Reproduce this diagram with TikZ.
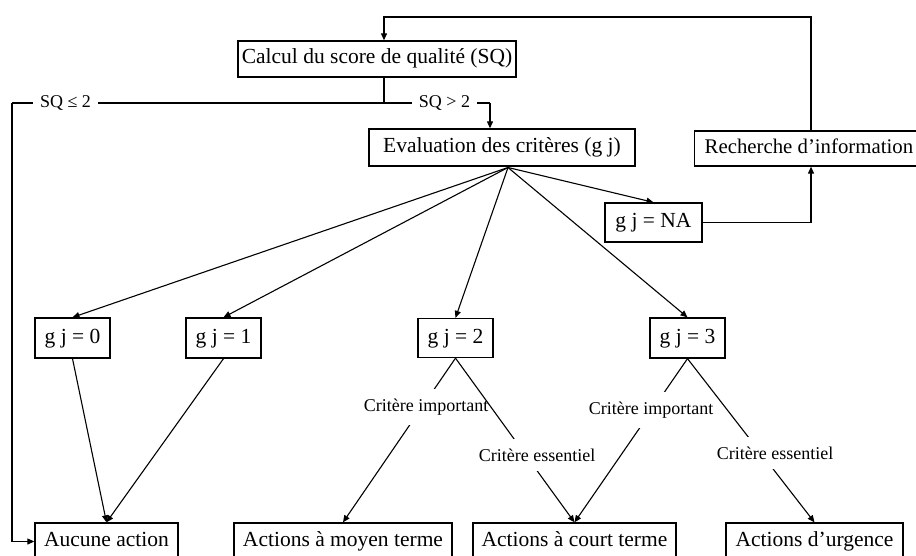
\documentclass[tikz,border=0pt]{standalone}
\usepackage{fontspec}
\setmainfont{Liberation Serif}
\usetikzlibrary{arrows.meta}
\begin{document}
\begin{tikzpicture}[x=1pt,y=-1pt,
  box/.style={draw,line width=1.3pt,fill=white,inner sep=0pt,text height=14.5pt,text depth=4.5pt,font=\fontsize{21.5}{25}\selectfont},
  lab/.style={fill=white,inner xsep=1pt,inner ysep=9.5pt,font=\fontsize{18}{21}\selectfont},
  sqlab/.style={fill=white,inner xsep=7pt,inner ysep=3pt,font=\fontsize{18}{21}\selectfont},
  conn/.style={line width=1.1pt},
  arr/.style={line width=1.1pt,-{Triangle[length=7pt,width=6pt]}}]
\useasboundingbox (0,0) rectangle (916,556);
% boxes
\node[box,minimum width=278pt,minimum height=36pt] (calc) at (377,59) {Calcul du score de qualité (SQ)};
\node[box,minimum width=266pt,minimum height=37pt] (eval) at (502,147.5) {Evaluation des critères (g j)};
\node[box,anchor=west,inner xsep=10pt,minimum height=35pt,font=\fontsize{20.8}{24}\selectfont] (rech) at (694,148.5) {Recherche d’information};
\node[box,minimum width=97pt,minimum height=39pt] (na) at (653.5,222.5) {g j = NA};
\node[box,minimum width=75pt,minimum height=40pt] (g0) at (72.5,338) {g j = 0};
\node[box,minimum width=75pt,minimum height=40pt] (g1) at (223.5,338) {g j = 1};
\node[box,minimum width=75pt,minimum height=39pt] (g2) at (455.5,338) {g j = 2};
\node[box,minimum width=75pt,minimum height=40pt] (g3) at (687.5,338) {g j = 3};
\node[box,minimum width=143pt,minimum height=37pt] (aucune) at (106.5,541.5) {Aucune action};
\node[box,minimum width=218pt,minimum height=37pt] (moyen) at (343,541.5) {Actions à moyen terme};
\node[box,minimum width=203pt,minimum height=37pt] (court) at (574.5,541.5) {Actions à court terme};
\node[box,minimum width=177pt,minimum height=37pt] (urg) at (814.5,541.5) {Actions d’urgence};
% feedback loop
\coordinate (loopR) at (811,17);
\coordinate (loopL) at (384,17);
\draw[arr] (loopR |- rech.north) -- (loopR) -- (loopL) -- (loopL |- calc.north);
\draw[arr] (na.east) -| (loopR |- rech.south);
% SQ split
\coordinate (split) at (384,103);
\coordinate (leftc) at (12,103);
\coordinate (rightc) at (490,103);
\draw[conn] (loopL |- calc.south) -- (split);
\draw[conn] (leftc) -- (rightc);
\draw[arr] (rightc) -- (rightc |- eval.north);
\draw[arr] (leftc) -- (leftc |- aucune.west) -- (aucune.west);
\node[sqlab] (sq1) at (65.5,103) {SQ ≤ 2};
\node[sqlab] (sq2) at (444.5,103) {SQ > 2};
% fan
\coordinate (fan) at (508,167.5);
\draw[arr] (fan) -- (g0.north);
\draw[arr] (fan) -- (g1.north);
\draw[arr] (fan) -- (g2.north);
\draw[arr] (fan) -- (g3.north);
\draw[arr] (fan) -- (na.north);
% to actions
\draw[arr] (g0.south) -- (aucune.north);
\draw[arr] (g1.south) -- (aucune.north);
\draw[arr] (g2.south) -- (moyen.north);
\node[lab] (imp2) at (426,407) {Critère important};
\draw[arr] (g2.south) -- (court.north);
\node[lab] (ess2) at (537,455) {Critère essentiel};
\draw[arr] (g3.south) -- (court.north);
\node[lab] (imp3) at (651,410) {Critère important};
\draw[arr] (g3.south) -- (urg.north);
\node[lab] (ess3) at (775,453) {Critère essentiel};
\end{tikzpicture}
\end{document}
